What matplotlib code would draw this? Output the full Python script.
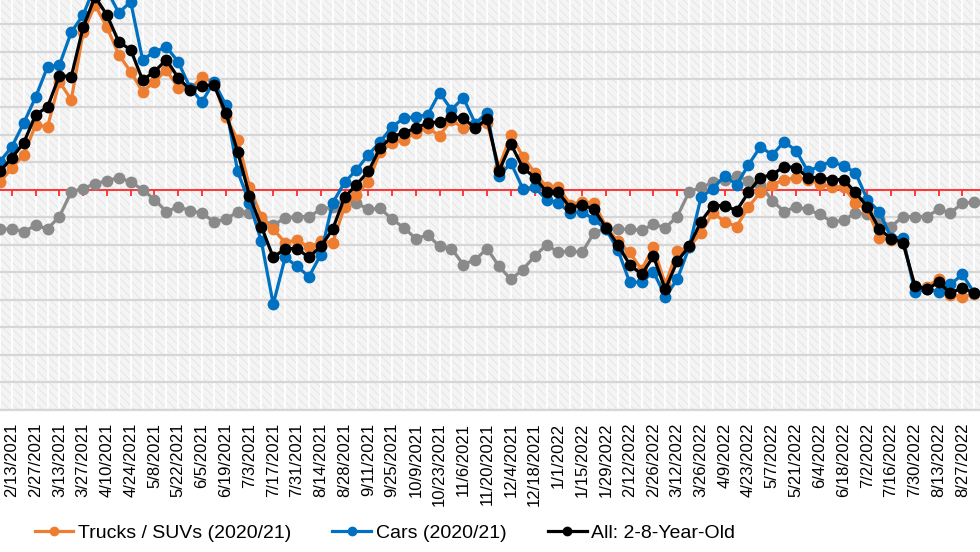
import numpy as np
import pandas as pd
import matplotlib
matplotlib.use('Agg')
import matplotlib.pyplot as plt
from matplotlib.patches import Rectangle

plt.rcParams['font.family'] = ['Liberation Sans', 'DejaVu Sans']
plt.rcParams['hatch.linewidth'] = 0.6

# weekly points, 2/6/2021 .. 9/3/2022
weeks = pd.date_range('2021-02-06', '2022-09-03', freq='7D')

trucks = [1.3, 4.0, 6.3, 11.8, 11.4, 19.6, 16.3, 28.6, 33.5, 29.5, 24.5, 21.4, 17.8, 19.6, 21.7, 18.5,
          18.1, 20.5, 19.4, 13.2, 9.1, 0.5, -4.9, -7.2, -9.6, -9.1, -10.5, -9.4, -9.6, -3.1, -0.9, 1.4,
          6.9, 8.5, 9.1, 10.3, 11.2, 9.8, 12.7, 11.1, 11.4, 12.1, 4.0, 10.0, 6.0, 3.1, 0.5, 0.5,
          -2.7, -2.2, -2.4, -6.7, -9.4, -11.4, -14.5, -10.5, -17.2, -11.1, -10.5, -7.8, -4.2, -5.8, -6.7, -3.1,
          -0.5, 0.9, 1.8, 2.2, 1.8, 1.1, 0.5, 0.5, -2.4, -3.6, -8.7, -9.1, -9.6, -17.6, -17.6, -16.3,
          -19.2, -19.4, -19.0]
cars = [5.1, 7.8, 12.1, 16.8, 22.3, 22.6, 28.6, 31.7, 37.1, 36.2, 32.1, 34.1, 23.6, 25.0, 25.9, 23.2,
        18.5, 15.9, 19.6, 15.4, 3.3, -2.4, -9.4, -20.8, -12.3, -13.9, -15.8, -11.8, -2.4, 1.3, 3.6, 6.3,
        8.7, 11.4, 13.0, 13.2, 13.6, 17.6, 14.5, 16.7, 12.0, 14.0, 2.4, 4.9, 0.2, 0.4, -1.8, -2.4,
        -4.2, -4.0, -5.4, -7.2, -10.9, -16.8, -16.8, -14.9, -19.4, -16.3, -10.5, -1.4, 0.2, 2.5, 0.9, 4.5,
        7.8, 6.3, 8.7, 7.1, 3.3, 4.3, 5.1, 4.3, 3.1, -1.8, -4.0, -8.7, -8.7, -18.5, -18.1, -18.5,
        -17.2, -15.4, -18.7]
all_2_8 = [3.3, 5.8, 8.5, 13.6, 15.0, 20.7, 20.5, 29.5, 35.0, 31.7, 26.8, 25.4, 19.9, 21.4, 23.6, 20.3,
           18.1, 18.8, 19.0, 14.0, 6.9, -1.1, -6.7, -12.3, -10.7, -10.7, -12.3, -10.3, -7.2, -1.4, 0.9, 3.3,
           7.6, 9.6, 10.3, 11.2, 12.1, 12.3, 13.2, 13.0, 11.1, 12.9, 3.4, 8.3, 4.0, 2.2, -0.4, -0.5,
           -3.3, -2.7, -3.6, -6.9, -10.0, -13.6, -15.4, -12.1, -18.1, -13.0, -10.3, -5.8, -2.9, -2.9, -3.8, -0.5,
           2.2, 2.7, 4.2, 4.0, 2.2, 2.2, 1.8, 1.8, -0.5, -3.1, -7.1, -8.9, -9.6, -17.4, -18.1, -16.8,
           -18.8, -17.8, -18.8]
prior = [-7.2, -7.1, -7.6, -6.5, -7.1, -4.9, -0.4, 0.2, 1.1, 1.6, 2.2, 1.4, 0.0, -1.8, -4.0, -3.1,
         -3.8, -4.3, -5.8, -5.4, -4.0, -4.2, -5.4, -6.5, -5.1, -4.9, -4.9, -3.6, -3.1, -1.8, -2.4, -3.6,
         -3.4, -5.4, -6.9, -8.9, -8.2, -10.3, -10.7, -13.6, -12.7, -10.7, -13.9, -16.3, -14.5, -12.1, -10.0, -11.4,
         -11.1, -11.4, -7.8, -7.1, -7.2, -7.2, -7.4, -6.3, -6.9, -4.9, -0.4, 0.4, 1.3, 1.8, 2.5, 1.6,
         0.9, -2.0, -4.0, -3.1, -3.6, -4.5, -5.8, -5.6, -4.2, -4.5, -5.4, -6.7, -4.9, -4.9, -4.9, -3.6,
         -4.2, -2.5, -2.2]

label_dates = weeks[1:82:2]
labels = [f'{d.month}/{d.day}/{d.year}' for d in label_dates]

fig = plt.figure(figsize=(9.8, 5.52), dpi=100)
ax = fig.add_axes([0, 0.2572, 1, 0.7428])
ax.set_facecolor('#f4f4f4')
ax.add_patch(Rectangle((0, 0), 1, 1, transform=ax.transAxes, facecolor='none',
                       edgecolor='#e3e3e3', hatch='\\\\\\\\', lw=0, zorder=0))

ax.set_ylim(-40, 34.42)
ax.set_yticks(np.arange(-40, 35, 5))
ax.yaxis.grid(True, color='#d6d6d6', lw=1.6)
ax.tick_params(axis='y', left=False, labelleft=False)

ax.set_xlim(weeks[1] - pd.Timedelta(days=4.7), weeks[1] + pd.Timedelta(days=570.4))
ax.set_xticks(label_dates)
ax.set_xticks(weeks, minor=True)
ax.set_xticklabels(labels, rotation=90, fontsize=12)
ax.tick_params(axis='x', which='both', length=0, pad=9)
ax.xaxis.grid(True, which='both', color='white', lw=1.3)
ax.set_axisbelow(True)

for s in ['top', 'left', 'right']:
    ax.spines[s].set_visible(False)
ax.spines['bottom'].set_color('#d6d6d6')
ax.spines['bottom'].set_linewidth(1.6)

# red zero line with downward ticks
ax.axhline(0, color='#ff2b2b', lw=1.3, zorder=2)
ax.plot(label_dates, np.zeros(len(label_dates)), ls='none', marker=3, ms=4,
        mew=1.3, color='#ff2b2b', zorder=2)

kw = dict(lw=2.3, marker='o', ms=7.5, zorder=3)
ax.plot(weeks, prior, color='#8a8a8a', **kw)
l1, = ax.plot(weeks, trucks, color='#ED7D31', label='Trucks / SUVs (2020/21)', **kw)
l2, = ax.plot(weeks, cars, color='#0070C0', label='Cars (2020/21)', **kw)
l3, = ax.plot(weeks, all_2_8, color='black', label='All: 2-8-Year-Old', **kw)

fig.legend(handles=[l1, l2, l3], loc='center', bbox_to_anchor=(385 / 980, 19 / 552),
           ncol=3, frameon=False, fontsize=14, handlelength=2, handletextpad=0.25,
           columnspacing=2.1, markerscale=0.8)

fig.savefig('out.png', dpi=100)
